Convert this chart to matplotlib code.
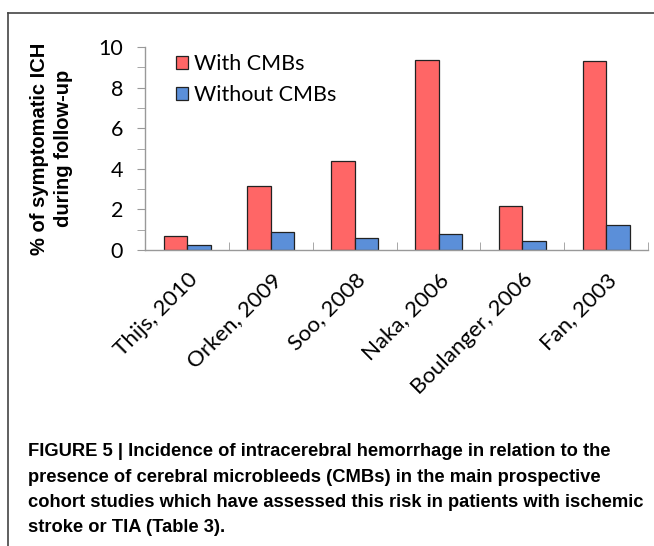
import matplotlib.pyplot as plt
import numpy as np
from matplotlib.lines import Line2D
from matplotlib.ticker import MultipleLocator

studies = ['Thijs, 2010', 'Orken, 2009', 'Soo, 2008', 'Naka, 2006', 'Boulanger, 2006', 'Fan, 2003']
with_cmbs = [0.7, 3.15, 4.4, 9.35, 2.15, 9.3]
without_cmbs = [0.23, 0.88, 0.57, 0.77, 0.47, 1.25]

caption = ("FIGURE 5 | Incidence of intracerebral hemorrhage in relation to the\n"
           "presence of cerebral microbleeds (CMBs) in the main prospective\n"
           "cohort studies which have assessed this risk in patients with ischemic\n"
           "stroke or TIA (Table 3).")

tick_font = ['Lato', 'DejaVu Sans']

fig = plt.figure(figsize=(6.54, 5.46), dpi=100)
ax = fig.add_axes([0.222, 0.542, 0.769, 0.372])

x = np.arange(len(studies))
w = 0.28
ax.bar(x - w / 2, with_cmbs, w, color='#FF6666', edgecolor='#222222', linewidth=0.9, label='With CMBs')
ax.bar(x + w / 2, without_cmbs, w, color='#5B8FD9', edgecolor='#222222', linewidth=0.9, label='Without CMBs')

ax.set_xlim(-0.5, len(studies) - 0.5)
ax.set_ylim(0, 10)
ax.yaxis.set_minor_locator(MultipleLocator(1))
ax.set_yticks(range(0, 11, 2))
ax.set_yticklabels([str(v) for v in range(0, 11, 2)], fontsize=15.5, family=tick_font)

# ticks at category boundaries, labels at centres
ax.set_xticks(x)
ax.set_xticklabels(studies, rotation=45, ha='right', rotation_mode='anchor', fontsize=16, family=tick_font)
ax.set_xticks(np.arange(-0.5, len(studies)), minor=True)
ax.tick_params(axis='x', which='major', length=0, pad=14)
ax.tick_params(axis='x', which='minor', direction='in', length=6, color='#999999')
ax.tick_params(axis='y', which='both', direction='out', length=6, color='#999999', pad=10)

for s in ['top', 'right']:
    ax.spines[s].set_visible(False)
for s in ['left', 'bottom']:
    ax.spines[s].set_color('#999999')
    ax.spines[s].set_linewidth(1.0)

ax.set_ylabel('% of symptomatic ICH\nduring follow-up', fontsize=14.5, fontweight='bold',
              family=['Liberation Sans', 'DejaVu Sans'], linespacing=1.35, va='center')
ax.yaxis.set_label_coords(-0.187, 0.5)

ax.legend(loc='upper left', bbox_to_anchor=(0.062, 0.965), frameon=False,
          prop={'family': tick_font, 'size': 15.5}, borderpad=0, borderaxespad=0,
          handlelength=0.55, handleheight=0.55, handletextpad=0.25, labelspacing=0.5)

# figure frame (left and top edge)
fig.add_artist(Line2D([0.012, 0.012], [0, 0.976], color='#444444', lw=1.2))
fig.add_artist(Line2D([0.012, 1.0], [0.976, 0.976], color='#444444', lw=1.2))

fig.text(0.043, 0.103, caption, ha='left', va='center', fontsize=13.25, fontweight='bold',
         family=['Liberation Sans', 'DejaVu Sans'], linespacing=1.65)

fig.savefig('out.png', dpi=100)
